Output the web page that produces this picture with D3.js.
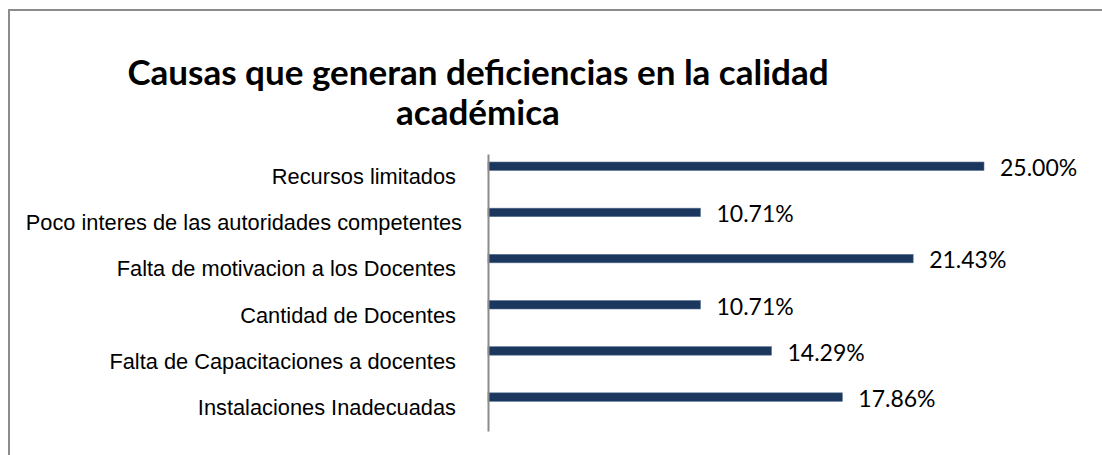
<!DOCTYPE html>
<html>
<head>
<meta charset="utf-8">
<script src="https://cdn.jsdelivr.net/npm/d3@7"></script>
<style>
  body { margin: 0; background: #fff; }
  text { white-space: pre; }
</style>
</head>
<body>
<script>
// chart data
const categories = [
  'Recursos limitados ',
  'Poco interes de las autoridades competentes',
  'Falta de motivacion a los Docentes ',
  'Cantidad de Docentes ',
  'Falta de Capacitaciones a docentes ',
  'Instalaciones Inadecuadas '
];
const values = [0.25, 0.1071, 0.2143, 0.1071, 0.1429, 0.1786];
const titleLines = ['Causas que generan deficiencias en la calidad', 'académica'];

const W = 1102, H = 455;

let svg = d3.select('body').append('svg')
    .attr('width', W)
    .attr('height', H);

// outer chart frame (runs off the right and bottom of the picture)
svg.append('rect')
    .attr('x', 9).attr('y', 10)
    .attr('width', 1110).attr('height', 470)
    .attr('fill', 'none')
    .attr('stroke', '#8c8c8c')
    .attr('stroke-width', 2);

// title
svg.append('g')
    .selectAll('text')
    .data(titleLines)
  .enter().append('text')
    .attr('x', 478)
    .attr('y', (d, i) => 85 + i * 40)
    .attr('text-anchor', 'middle')
    .attr('font-family', 'Lato, "Open Sans", sans-serif')
    .attr('font-weight', 'bold')
    .attr('font-size', 35)
    .attr('fill', '#000')
    .text(d => d);

let xScale = d3.scaleLinear()
    .domain([0, 0.25])
    .range([488, 984]);

let yScale = d3.scaleBand()
    .domain(categories)
    .range([154, 431]);

const fmt = d3.format('.2%');

// bars sit in the upper part of each band (second empty series in the original)
svg.append('g')
    .selectAll('.bar')
    .data(values)
  .enter().append('rect')
    .attr('class', 'bar')
    .attr('x', xScale(0))
    .attr('y', (d, i) => yScale(categories[i]) + 8)
    .attr('width', d => xScale(d) - xScale(0))
    .attr('height', 8.5)
    .attr('fill', '#1b375e')
    .attr('stroke', '#5a7393')
    .attr('stroke-width', 0.6);

// value labels
svg.append('g')
    .selectAll('text')
    .data(values)
  .enter().append('text')
    .attr('x', d => xScale(d) + 16)
    .attr('y', (d, i) => yScale(categories[i]) + 14)
    .attr('dy', '0.35em')
    .attr('font-family', 'Lato, "Open Sans", sans-serif')
    .attr('font-size', 23)
    .attr('fill', '#000')
    .text(d => fmt(d));

// category axis
let yAxis = d3.axisLeft(yScale)
    .tickSize(0)
    .tickPadding(26);

let gAxis = svg.append('g')
    .attr('transform', 'translate(' + xScale(0) + ',0)')
    .call(yAxis);

gAxis.select('.domain')
    .attr('stroke', '#8c8c8c')
    .attr('stroke-width', 2);

gAxis.selectAll('text')
    .attr('font-family', '"Liberation Sans", Arial, sans-serif')
    .attr('font-size', 21.8)
    .attr('fill', '#000');
</script>
</body>
</html>
